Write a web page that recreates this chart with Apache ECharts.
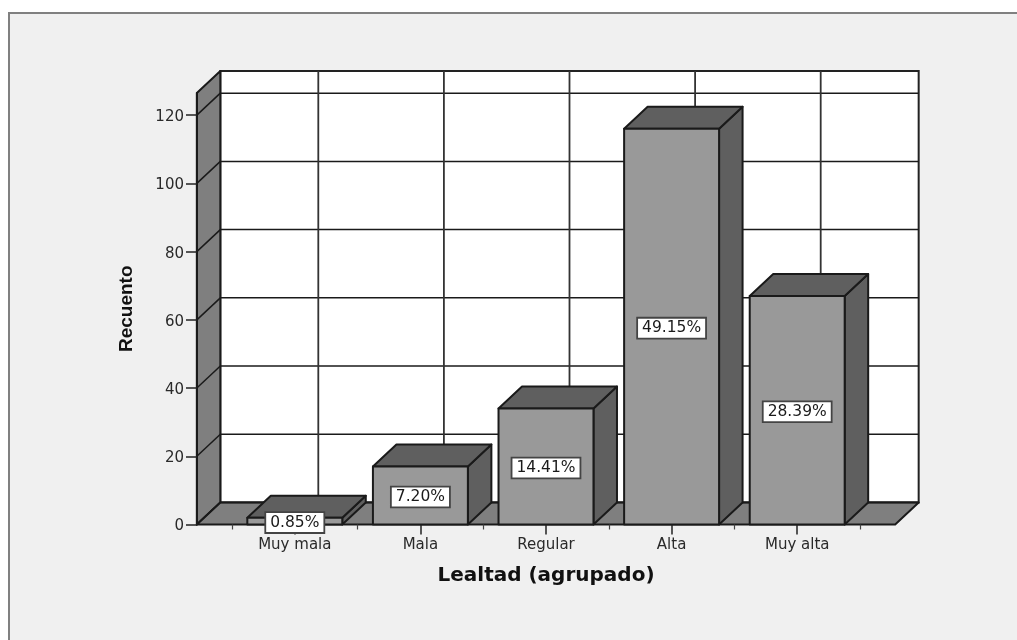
<!DOCTYPE html>
<html>
<head>
<meta charset="utf-8">
<style>
html,body{margin:0;padding:0;background:#fff;overflow:hidden}
#frame{position:absolute;left:8px;top:12px;right:0;bottom:0;background:#f0f0f0;border-left:2px solid #808080;border-top:2px solid #808080}
#c{position:absolute;left:0;top:0;width:1017px;height:640px}
</style>
<script src="https://cdn.jsdelivr.net/npm/echarts@6/dist/echarts.min.js"></script>
</head>
<body>
<div id="frame"></div>
<div id="c"></div>
<script>
var categories = ['Muy mala', 'Mala', 'Regular', 'Alta', 'Muy alta'];
var counts = [2, 17, 34, 116, 67];
var percentLabels = ['0.85%', '7.20%', '14.41%', '49.15%', '28.39%'];
var yTicks = [0, 20, 40, 60, 80, 100, 120];
var yMax = 126.5;

var depthX = 23.5, depthY = -22;
var barFrac = 0.756, wallMarginFrac = 0.28;
var ink = '#1a1a1a', wallFill = '#7f7f7f', topFill = '#5f5f5f', frontFill = '#999999';
var labelFont = '15.5px "DejaVu Sans"';

function poly(points, fill, lw) {
  return { type: 'polygon', shape: { points: points },
    style: { fill: fill, stroke: ink, lineWidth: lw || 2, lineJoin: 'round' } };
}
function line(a, b, color, lw) {
  return { type: 'line', shape: { x1: a[0], y1: a[1], x2: b[0], y2: b[1] },
    style: { stroke: color || ink, lineWidth: lw || 1.5 } };
}
function back(p) { return [p[0] + depthX, p[1] + depthY]; }

function renderWalls(params, api) {
  var band = api.size([1, 0])[0];
  var first = api.coord([0, 0]), last = api.coord([categories.length - 1, yMax]);
  var xL = first[0] - band * (0.5 + wallMarginFrac);
  var xR = last[0] + band * (0.5 + wallMarginFrac);
  var y0 = first[1], yT = last[1];
  var c = [];
  c.push({ type: 'rect', shape: { x: xL + depthX, y: yT + depthY, width: xR - xL, height: y0 - yT },
    style: { fill: '#fff', stroke: '#222', lineWidth: 2 } });
  c.push(poly([[xL, y0], [xL + depthX, y0 + depthY], [xL + depthX, yT + depthY], [xL, yT]], wallFill));
  c.push(poly([[xL, y0], [xR, y0], [xR + depthX, y0 + depthY], [xL + depthX, y0 + depthY]], wallFill));
  yTicks.forEach(function (v) {
    var y = api.coord([0, v])[1];
    c.push(line([xL, y], back([xL, y])));
    c.push(line(back([xL, y]), back([xR, y])));
  });
  categories.forEach(function (n, i) {
    var x = api.coord([i, 0])[0];
    c.push(line(back([x, y0]), back([x, yT]), '#333', 1.8));
  });
  return { type: 'group', children: c };
}

function renderBar(params, api) {
  var i = api.value(0), v = api.value(1);
  var w = api.size([1, 0])[0] * barFrac;
  var base = api.coord([i, 0]), top = api.coord([i, v]);
  var l = base[0] - w / 2, r = base[0] + w / 2, y0 = base[1], y1 = top[1];
  return { type: 'group', children: [
    poly([[r, y0], back([r, y0]), back([r, y1]), [r, y1]], topFill),
    poly([[l, y1], back([l, y1]), back([r, y1]), [r, y1]], topFill),
    poly([[l, y0], [r, y0], [r, y1], [l, y1]], frontFill)
  ] };
}

function renderLabel(params, api) {
  var i = api.value(0), v = api.value(1);
  var p = api.coord([i, v / 2]);
  return { type: 'text', x: p[0], y: p[1] + 1.5,
    style: { text: percentLabels[params.dataIndex], font: labelFont, fill: '#1a1a1a', align: 'center', verticalAlign: 'middle',
      backgroundColor: '#fff', borderColor: '#444', borderWidth: 1.8, padding: [2, 4, 1, 4] } };
}

var barData = categories.map(function (n, i) { return [i, counts[i]]; });

var option = {
  animation: false,
  backgroundColor: 'transparent',
  textStyle: { fontFamily: 'DejaVu Sans' },
  grid: { left: 232, width: 628, top: 93, height: 431.5 },
  xAxis: [{
    type: 'category', data: categories, position: 'bottom', z: 3,
    axisLine: { show: false },
    axisTick: { show: true, alignWithLabel: true, length: 10, lineStyle: { color: '#222', width: 1.5 } },
    axisLabel: { color: '#2a2a2a', fontSize: 15, fontFamily: 'DejaVu Sans', margin: 13, interval: 0 },
    name: 'Lealtad (agrupado)', nameLocation: 'middle', nameGap: 41,
    nameTextStyle: { color: '#111', fontSize: 20, fontWeight: 'bold', fontFamily: 'DejaVu Sans' }
  }, {
    type: 'category', data: categories, position: 'bottom', z: 3,
    axisLine: { show: false }, axisLabel: { show: false },
    axisTick: { show: true, alignWithLabel: false, length: 5, lineStyle: { color: '#444', width: 1.2 } }
  }],
  yAxis: {
    type: 'value', min: 0, max: yMax, offset: 35, z: 3,
    splitLine: { show: false },
    axisLine: { show: true, lineStyle: { color: ink, width: 2 } },
    axisTick: { show: true, length: 11, customValues: yTicks, lineStyle: { color: '#222', width: 1.5 } },
    axisLabel: { color: '#2a2a2a', fontSize: 15, fontFamily: 'DejaVu Sans', margin: 13, customValues: yTicks, verticalAlign: 'top', lineHeight: 4 },
    name: 'Recuento', nameLocation: 'middle', nameGap: 61, nameRotate: 90,
    nameTextStyle: { color: '#111', fontSize: 19, fontWeight: 'bold', fontFamily: 'Liberation Sans' }
  },
  series: [
    { type: 'custom', name: 'walls', z: 1, silent: true, data: [[0, 0]], encode: { x: 0, y: 1 }, renderItem: renderWalls },
    { type: 'custom', name: 'Recuento', z: 2, data: barData, encode: { x: 0, y: 1 }, renderItem: renderBar },
    { type: 'custom', name: 'Porcentaje', z: 5, data: barData, encode: { x: 0, y: 1 }, renderItem: renderLabel }
  ]
};
echarts.init(document.getElementById('c')).setOption(option);
</script>
</body>
</html>
